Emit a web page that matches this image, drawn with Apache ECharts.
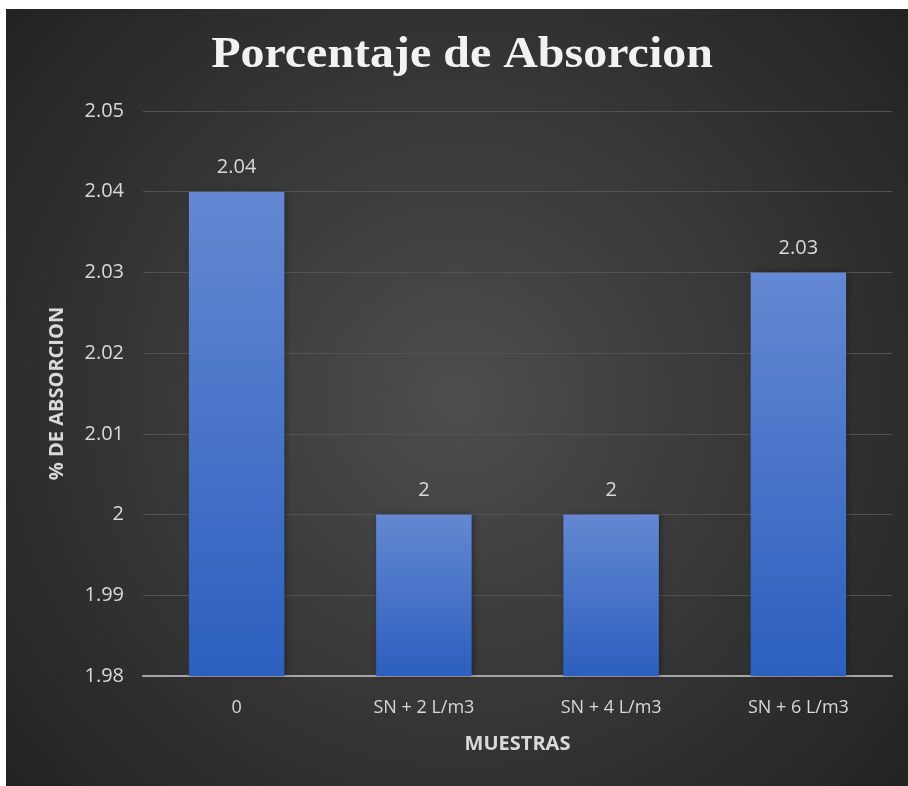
<!DOCTYPE html>
<html>
<head>
<meta charset="utf-8">
<script src="https://cdn.jsdelivr.net/npm/echarts@6/dist/echarts.min.js"></script>
<style>
  html, body { margin: 0; padding: 0; background: #ffffff; }
  #chart { position: absolute; left: 6px; top: 9px; width: 902px; height: 777px; }
</style>
</head>
<body>
<div id="chart"></div>
<script>
const titleText = 'Porcentaje de Absorcion';
const categories = ['0', 'SN + 2 L/m3', 'SN + 4 L/m3', 'SN + 6 L/m3'];
const absorcion = [2.04, 2.00, 2.00, 2.03];
const yMin = 1.98, yMax = 2.05, yStep = 0.01;

const chart = echarts.init(document.getElementById('chart'));
const labelColor = '#d9d9d9';
const sans = '"Open Sans", sans-serif';

chart.setOption({
  backgroundColor: {
    type: 'radial', x: 0.5, y: 0.5, r: 0.75,
    colorStops: [
      { offset: 0, color: '#4d4d4d' },
      { offset: 1, color: '#232323' }
    ]
  },
  graphic: [{
    type: 'text',
    x: 456, y: 47,
    scaleX: 1.09,
    style: {
      text: titleText,
      font: 'bold 44px "Liberation Serif", "DejaVu Serif", serif',
      fill: '#f2f2f2',
      align: 'center',
      verticalAlign: 'middle',
      shadowColor: 'rgba(0,0,0,0.8)',
      shadowBlur: 4,
      shadowOffsetX: 2,
      shadowOffsetY: 2
    }
  }],
  grid: { left: 137, right: 16, top: 102, bottom: 110 },
  xAxis: {
    type: 'category',
    data: categories,
    name: 'MUESTRAS',
    nameLocation: 'middle',
    nameGap: 58,
    nameTextStyle: { color: labelColor, fontSize: 20, fontWeight: 'bold', fontFamily: sans },
    axisLine: { lineStyle: { color: '#a6a6a6', width: 2 } },
    axisTick: { show: false },
    axisLabel: { color: labelColor, fontSize: 18, margin: 23, fontFamily: sans }
  },
  yAxis: {
    type: 'value',
    min: yMin, max: yMax, interval: yStep,
    name: '% DE ABSORCION',
    nameLocation: 'middle',
    nameRotate: 90,
    nameGap: 76,
    nameTextStyle: { color: labelColor, fontSize: 20, fontWeight: 'bold', fontFamily: sans },
    axisLine: { show: false },
    axisTick: { show: false },
    axisLabel: {
      color: labelColor, fontSize: 20, margin: 19,
      fontFamily: sans,
      formatter: v => String(parseFloat(v.toFixed(2)))
    },
    splitLine: { lineStyle: { color: '#525252', width: 1 } }
  },
  series: [{
    type: 'bar',
    data: absorcion,
    barWidth: '51%',
    itemStyle: {
      color: {
        type: 'linear', x: 0, y: 0, x2: 0, y2: 1,
        colorStops: [
          { offset: 0, color: '#6488d2' },
          { offset: 1, color: '#2c5fbf' }
        ]
      },
      shadowColor: 'rgba(0,0,0,0.35)',
      shadowBlur: 6,
      shadowOffsetX: 2
    },
    label: {
      show: true,
      position: 'top',
      distance: 14,
      color: labelColor,
      fontSize: 20,
      fontFamily: sans,
      formatter: p => String(parseFloat(p.value.toFixed(2)))
    }
  }]
});
</script>
</body>
</html>
